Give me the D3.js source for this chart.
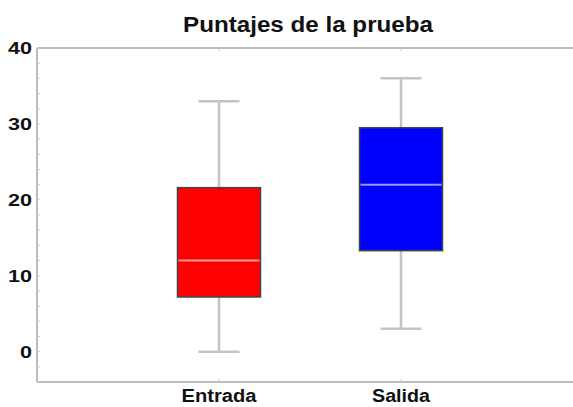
<!DOCTYPE html>
<html>
<head>
<meta charset="utf-8">
<script src="https://cdn.jsdelivr.net/npm/d3@7"></script>
<style>
  body { margin: 0; background: #fff; }
  text { font-family: "Liberation Sans", Arial, sans-serif; }
</style>
</head>
<body>
<svg id="chart"></svg>
<script>
var width = 573;
var height = 407;

// box stats
var categories = ["Entrada", "Salida"];
var whiskerLow = [0, 3];
var q1 = [7.2, 13.3];
var medians = [12, 22];
var q3 = [21.6, 29.5];
var whiskerHigh = [33, 36];
var boxColors = ["#ff0000", "#0000ff"];
var yTicks = [0, 10, 20, 30, 40];
var yMinorTicks = d3.range(-4, 41, 2);

var margin = {left: 37, top: 48, bottom: 25};

var svg = d3.select("#chart")
    .attr("width", width)
    .attr("height", height);

var x = d3.scaleLinear().domain([0, 3]).range([margin.left, 583]);
var y = d3.scaleLinear().domain([-4, 40]).range([height - margin.bottom, margin.top]);

// frame lines
svg.append("line")
    .attr("x1", x(0)).attr("x2", width)
    .attr("y1", y(40)).attr("y2", y(40))
    .attr("stroke", "#bbb").attr("stroke-width", 2);
svg.append("line")
    .attr("x1", x(0)).attr("x2", width)
    .attr("y1", y(-4)).attr("y2", y(-4))
    .attr("stroke", "#bbb").attr("stroke-width", 2);
svg.append("line")
    .attr("x1", x(0)).attr("x2", x(0))
    .attr("y1", y(40)).attr("y2", y(-4))
    .attr("stroke", "#bbb").attr("stroke-width", 2);

// minor ticks inside left axis
svg.selectAll(".minor")
    .data(yMinorTicks)
    .enter()
    .append("line")
    .attr("x1", x(0)).attr("x2", x(0) + 3)
    .attr("y1", function (d) { return y(d); })
    .attr("y2", function (d) { return y(d); })
    .attr("stroke", "#ccc");

// y tick labels (the source font is a bit wider, so stretch it)
svg.selectAll(".ylab")
    .data(yTicks)
    .enter()
    .append("text")
    .attr("x", x(0) - 5)
    .attr("y", function (d) { return y(d); })
    .attr("dy", "0.36em")
    .attr("text-anchor", "end")
    .attr("textLength", function (d) { return String(d).length * 12; })
    .attr("lengthAdjust", "spacingAndGlyphs")
    .style("font-size", "17px")
    .style("font-weight", "bold")
    .style("fill", "#111")
    .text(function (d) { return d; });

// x tick labels and small ticks
var labelLen = [75, 58];
categories.forEach(function (c, i) {
    var cx = x(i + 1);
    svg.append("line")
        .attr("x1", cx).attr("x2", cx)
        .attr("y1", y(-4)).attr("y2", y(-4) - 3)
        .attr("stroke", "#ccc");
    svg.append("line")
        .attr("x1", cx).attr("x2", cx)
        .attr("y1", y(40)).attr("y2", y(40) + 3)
        .attr("stroke", "#ccc");
    svg.append("text")
        .attr("x", cx)
        .attr("y", 402)
        .attr("text-anchor", "middle")
        .attr("textLength", labelLen[i])
        .attr("lengthAdjust", "spacingAndGlyphs")
        .style("font-size", "18px")
        .style("font-weight", "bold")
        .style("fill", "#111")
        .text(c);
});

var boxW = 83;
var capW = 41;

categories.forEach(function (c, i) {
    var cx = x(i + 1);
    var g = svg.append("g");
    // whisker stems
    g.append("line")
        .attr("x1", cx).attr("x2", cx)
        .attr("y1", y(whiskerHigh[i])).attr("y2", y(q3[i]))
        .attr("stroke", "#c4c4c4").attr("stroke-width", 2.5);
    g.append("line")
        .attr("x1", cx).attr("x2", cx)
        .attr("y1", y(q1[i])).attr("y2", y(whiskerLow[i]))
        .attr("stroke", "#c4c4c4").attr("stroke-width", 2.5);
    // caps
    [whiskerHigh[i], whiskerLow[i]].forEach(function (v) {
        g.append("line")
            .attr("x1", cx - capW / 2).attr("x2", cx + capW / 2)
            .attr("y1", y(v)).attr("y2", y(v))
            .attr("stroke", "#c4c4c4").attr("stroke-width", 2.5);
    });
    // box
    g.append("rect")
        .attr("x", cx - boxW / 2)
        .attr("y", y(q3[i]))
        .attr("width", boxW)
        .attr("height", y(q1[i]) - y(q3[i]))
        .style("fill", boxColors[i])
        .attr("stroke", "#444")
        .attr("stroke-width", 1.5);
    // median
    g.append("line")
        .attr("x1", cx - boxW / 2 + 1).attr("x2", cx + boxW / 2 - 1)
        .attr("y1", y(medians[i])).attr("y2", y(medians[i]))
        .attr("stroke", "#fff").attr("stroke-opacity", 0.6)
        .attr("stroke-width", 2);
});

// title
svg.append("text")
    .attr("x", 308)
    .attr("y", 32)
    .attr("text-anchor", "middle")
    .attr("textLength", 250)
    .attr("lengthAdjust", "spacingAndGlyphs")
    .style("font-size", "22px")
    .style("font-weight", "bold")
    .style("fill", "#111")
    .text("Puntajes de la prueba");
</script>
</body>
</html>
